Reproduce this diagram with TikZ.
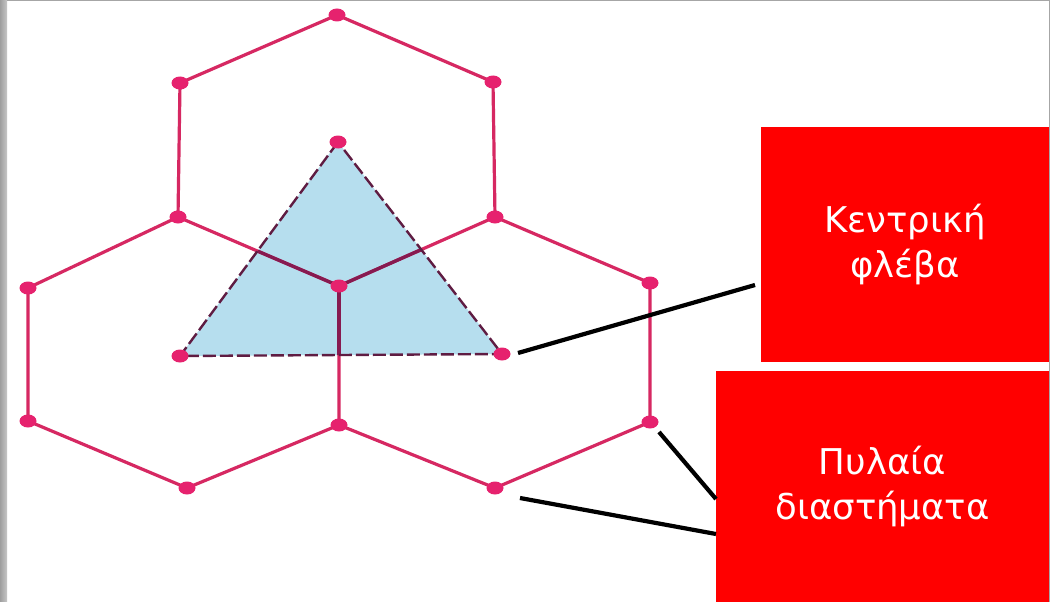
\documentclass[tikz,border=0pt]{standalone}
\usepackage{fontspec}
\newfontfamily\grfont{DejaVu Sans}
\usetikzlibrary{shapes.geometric}
\definecolor{hexpink}{RGB}{214,40,98}
\definecolor{dotpink}{RGB}{230,34,110}
\definecolor{innerdark}{RGB}{135,26,80}
\definecolor{triblue}{RGB}{182,222,238}
\definecolor{tridash}{RGB}{95,28,66}
\definecolor{boxred}{RGB}{255,0,0}
\tikzset{
  hexedge/.style={draw=hexpink, line width=3.2pt, line cap=round},
  inneredge/.style={draw=innerdark, line width=3.4pt},
  dotnode/.style={shape=ellipse, fill=dotpink, minimum width=17pt, minimum height=13pt, inner sep=0pt},
  pointer/.style={draw=black, line width=4.2pt},
  labelbox/.style={fill=boxred, text=white, inner sep=0pt, align=center, font=\grfont\fontsize{35.5}{45}\selectfont},
}
\begin{document}
\begin{tikzpicture}[x=1pt,y=-1pt]
\useasboundingbox (0,0) rectangle (1050,602);
\fill[white] (0,0) rectangle (1050,602);
\shade[left color=black!38, right color=black!22] (0,0) rectangle (7,602);
\draw[black!35, line width=1.5pt] (7,0.75) -- (1050,0.75);
\draw[black!35, line width=1.5pt] (1049.25,0) -- (1049.25,602);

% vertices
\coordinate (T0) at (337,15);
\coordinate (UR) at (493,82);
\coordinate (UL) at (180,83);
\coordinate (ML) at (178,217);
\coordinate (MR) at (495,217);
\coordinate (C) at (339,286);
\coordinate (FL) at (28,288);
\coordinate (FR) at (650,283);
\coordinate (BL) at (28,421);
\coordinate (BM) at (339,425);
\coordinate (BR) at (650,422);
\coordinate (BBL) at (187,488);
\coordinate (BBR) at (495,488);
\coordinate (TA) at (338,142);
\coordinate (TL) at (180,356);
\coordinate (TR) at (502,354);

% triangle fill
\fill[triblue] (TA) -- (TL) -- (TR) -- cycle;

% hexagon edges
\draw[hexedge] (T0) -- (UR) -- (MR) -- (C) -- (ML) -- (UL) -- cycle;
\draw[hexedge] (ML) -- (FL) -- (BL) -- (BBL) -- (BM) -- (C);
\draw[hexedge] (MR) -- (FR) -- (BR) -- (BBR) -- (BM);

% darker segments inside triangle
\begin{scope}
\clip (TA) -- (TL) -- (TR) -- cycle;
\draw[inneredge] (ML) -- (C) -- (MR);
\draw[inneredge] (C) -- (BM);
\end{scope}

% dashed triangle border
\draw[draw=tridash, line width=2.4pt, dash pattern=on 13pt off 4pt] (TA) -- (TL) -- (TR) -- cycle;

% dots
\foreach \p in {T0,UR,UL,ML,MR,C,FL,FR,BL,BM,BR,BBL,BBR,TA,TL,TR}
  \node[dotnode] (d\p) at (\p) {};

% label boxes
\node[labelbox, minimum width=288pt, minimum height=235pt] (box1) at (905,244.5) {Κεντρική\\φλέβα};
\node[labelbox, minimum width=333pt, minimum height=231pt] (box2) at (882.5,486.5) {Πυλαία\\διαστήματα};

% pointers
\coordinate (p1s) at (518,353);
\coordinate (p1e) at (755,285);
\coordinate (p2s) at (659,432);
\coordinate (p2e) at (716,499);
\coordinate (p3s) at (520,498);
\coordinate (p3e) at (716,534);
\draw[pointer] (p1s) -- (p1e);
\draw[pointer] (p2s) -- (p2e);
\draw[pointer] (p3s) -- (p3e);
\end{tikzpicture}
\end{document}
